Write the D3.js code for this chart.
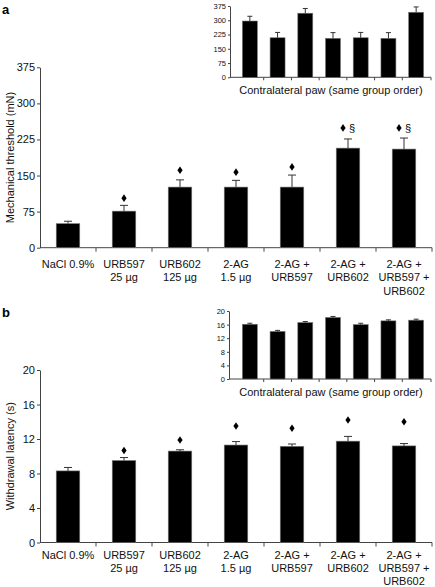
<!DOCTYPE html>
<html><head><meta charset="utf-8">
<script src="https://cdn.jsdelivr.net/npm/d3@7"></script>
<style>
body{margin:0;background:#fff;}
svg{display:block;font-family:"Liberation Sans",Arial,sans-serif;}
</style></head>
<body>
<svg id="c" width="435" height="587"></svg>
<script>
const categories = [["NaCl 0.9%"],["URB597","25 µg"],["URB602","125 µg"],["2-AG","1.5 µg"],["2-AG +","URB597"],["2-AG +","URB602"],["2-AG +","URB597 +","URB602"]];
const mechMean = [50, 76, 126, 126, 126, 207, 205];
const mechErr = [5, 12, 15, 14, 25, 19, 23];
const mechMarks = ["", "♦", "♦", "♦", "♦", "♦§", "♦§"];
const mechMarkLevel = [null, 103, 161, 157, 168, 249, 249];
const mechContraMean = [296, 208, 337, 205, 208, 205, 342];
const mechContraErr = [25, 28, 25, 30, 28, 30, 28];
const mechTicks = [0, 75, 150, 225, 300, 375];
const latMean = [8.3, 9.5, 10.6, 11.3, 11.15, 11.75, 11.2];
const latErr = [0.4, 0.35, 0.15, 0.4, 0.27, 0.55, 0.27];
const latMarks = ["", "♦", "♦", "♦", "♦", "♦", "♦"];
const latMarkLevel = [null, 10.67, 11.88, 13.5, 13.24, 14.2, 14.0];
const latContraMean = [16.1, 14.0, 16.6, 18.1, 16.0, 17.1, 17.3];
const latContraErr = [0.3, 0.3, 0.3, 0.3, 0.4, 0.3, 0.3];
const latTicks = [0, 4, 8, 12, 16, 20];
const yLabels = ["Mechanical threshold (mN)", "Withdrawal latency (s)"];
const panelLetters = ["a", "b"];
const insetTitle = "Contralateral paw (same group order)";

const svg = d3.select("#c");
const idx = d3.range(categories.length);
const AX = "#444";

function drawBars(g, x, y, mean, err, capW, errColor){
  g.selectAll("rect.bar").data(idx).join("rect").attr("class","bar")
    .attr("x", i => x(i)).attr("width", x.bandwidth())
    .attr("y", i => y(mean[i])).attr("height", i => y(0) - y(mean[i]))
    .attr("fill", "#000").attr("stroke","#777").attr("stroke-width",0.6);
  const eb = g.selectAll("g.eb").data(idx).join("g").attr("class","eb")
    .attr("stroke", errColor).attr("stroke-width", 1);
  eb.append("line").attr("x1", i => x(i)+x.bandwidth()/2).attr("x2", i => x(i)+x.bandwidth()/2)
    .attr("y1", i => y(mean[i])).attr("y2", i => y(mean[i]+err[i]));
  eb.append("line").attr("x1", i => x(i)+x.bandwidth()/2 - capW/2).attr("x2", i => x(i)+x.bandwidth()/2 + capW/2)
    .attr("y1", i => y(mean[i]+err[i])).attr("y2", i => y(mean[i]+err[i]));
}

function yAxis(g, y, ticks, fs, size){
  const ax = d3.axisLeft(y).tickValues(ticks).tickSize(size).tickSizeOuter(0).tickPadding(2);
  g.call(ax);
  g.select(".domain").attr("stroke", AX);
  g.selectAll(".tick line").attr("stroke", AX);
  g.selectAll(".tick text").attr("font-size", fs).attr("fill","#111")
    .attr("font-family","Liberation Sans, Arial, sans-serif");
}

function xBase(g, x, y0, x0, x1, tick){
  g.append("line").attr("x1", x0).attr("x2", x1).attr("y1", y0).attr("y2", y0).attr("stroke", AX);
  const bounds = idx.slice(1).map(i => x(i) - x.step()*x.paddingInner()/2);
  bounds.push(x1);
  g.selectAll("line.xt").data(bounds).join("line").attr("class","xt")
    .attr("x1", d => d).attr("x2", d => d).attr("y1", y0).attr("y2", y0 + tick).attr("stroke", AX);
}

function diamond(g, cx, cy){
  g.append("path").attr("d", `M${cx},${cy-3.8}L${cx+2.6},${cy}L${cx},${cy+3.8}L${cx-2.6},${cy}Z`).attr("fill","#000");
}

function panel(cfg){
  const g = svg.append("g");
  const y = d3.scaleLinear().domain([0, cfg.ticks[cfg.ticks.length-1]]).range([cfg.yBottom, cfg.yTop]);
  const x = d3.scaleBand().domain(idx).range([40, 432]).paddingInner(0.58).paddingOuter(0.29);
  xBase(g, x, cfg.yBottom, 40, 432, 4);
  yAxis(g.append("g").attr("transform","translate(40,0)"), y, cfg.ticks, 11, 3);
  drawBars(g, x, y, cfg.mean, cfg.err, 8, "#333");
  idx.forEach(i => {
    if (!cfg.marks[i]) return;
    const cx = x(i) + x.bandwidth()/2;
    const cy = y(cfg.markLevel[i]);
    if (cfg.marks[i].includes("§")) {
      diamond(g, cx - 5, cy);
      g.append("text").attr("x", cx + 4).attr("y", cy + 4).attr("font-size", 11).attr("text-anchor","middle").text("§");
    } else diamond(g, cx, cy);
  });
  idx.forEach(i => {
    const cx = x(i) + x.bandwidth()/2;
    categories[i].forEach((t, k) => {
      g.append("text").attr("x", cx).attr("y", cfg.yBottom + cfg.labOff + k*cfg.labStep).attr("text-anchor","middle")
        .attr("font-size", 11).attr("fill","#111").text(t);
    });
  });
  g.append("text").attr("transform", `translate(14,${(cfg.yBottom+cfg.yTop)/2}) rotate(-90)`)
    .attr("text-anchor","middle").attr("font-size", 11).attr("fill","#111").text(cfg.ylabel);
  g.append("text").attr("x", 2).attr("y", cfg.letterY).attr("font-size", 13).attr("font-weight","bold").text(cfg.letter);
  const yi = d3.scaleLinear().domain([0, cfg.ticks[cfg.ticks.length-1]]).range([cfg.insBottom, cfg.insTop]);
  const xi = d3.scaleBand().domain(idx).range([236, 430]).paddingInner(0.46).paddingOuter(0.23);
  const gi = svg.append("g");
  xBase(gi, xi, cfg.insBottom, cfg.insAxisX, 431, 3);
  yAxis(gi.append("g").attr("transform",`translate(${cfg.insAxisX},0)`), yi, cfg.ticks, 7.5, 2);
  drawBars(gi, xi, yi, cfg.cMean, cfg.cErr, 5, "#333");
  gi.append("text").attr("x", 331).attr("y", cfg.insBottom + 17).attr("text-anchor","middle")
    .attr("font-size", 11).attr("fill","#111").text(insetTitle);
}

panel({yTop:67.3, yBottom:247.7, ticks:mechTicks, mean:mechMean, err:mechErr, marks:mechMarks, markLevel:mechMarkLevel,
  ylabel:yLabels[0], letter:panelLetters[0], letterY:14, insTop:6, insBottom:77.3, insAxisX:230,
  cMean:mechContraMean, cErr:mechContraErr, labOff:20, labStep:13.5});
panel({yTop:370, yBottom:542.5, ticks:latTicks, mean:latMean, err:latErr, marks:latMarks, markLevel:latMarkLevel,
  ylabel:yLabels[1], letter:panelLetters[1], letterY:317, insTop:311, insBottom:379, insAxisX:229,
  cMean:latContraMean, cErr:latContraErr, labOff:16.5, labStep:13});
</script>
</body></html>
